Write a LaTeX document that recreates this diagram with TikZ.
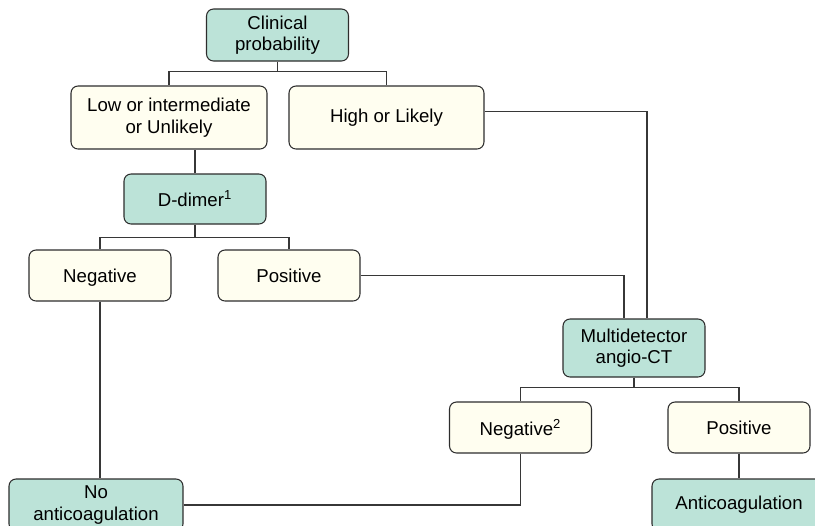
\documentclass[tikz,border=0pt]{standalone}
\usepackage{fontspec}
\setmainfont{Liberation Sans}
\usepackage{tikz}
\usetikzlibrary{positioning, calc}
\definecolor{testfill}{RGB}{188,227,216}
\definecolor{resfill}{RGB}{255,254,240}
\definecolor{boxline}{RGB}{45,45,45}
\definecolor{linkline}{RGB}{55,55,55}

\begin{document}
\begin{tikzpicture}[
  x=0.02cm, y=-0.02cm,
  testbox/.style={fill=testfill, draw=boxline, line width=0.6pt,
                  rounded corners=0.14cm, align=center, inner sep=0pt,
                  minimum width=2.84cm},
  resbox/.style={fill=resfill, draw=boxline, line width=0.6pt,
                 rounded corners=0.14cm, align=center, inner sep=0pt,
                 minimum width=2.84cm, minimum height=1.02cm},
  link/.style={draw=linkline, line width=0.6pt},
  font=\fontsize{10.6}{12.2}\selectfont,
]
\clip (0,0) rectangle (815,525);

% =================================================================
% TOP: clinical probability
% =================================================================
\node[testbox, minimum height=1.04cm] (clin) at (277.5,35) {Clinical\\probability};
\node[resbox, minimum width=3.92cm, minimum height=1.26cm] (low) at (169,117.5)
  {Low or intermediate\\or Unlikely};
\node[resbox, minimum width=3.9cm, minimum height=1.26cm] (high) at (386.5,117.5)
  {High or Likely};

\draw[link] (clin.south) -- ++(0,10) coordinate (clinfork);
\draw[link] (clinfork) -| (low.north);
\draw[link] (clinfork) -| (high.north);

% =================================================================
% LEFT: D-dimer branch
% =================================================================
\node[testbox, minimum height=1.0cm] (ddimer) at (195,199) {D-dimer\textsuperscript{1}};
\node[resbox, text depth=0pt] (neg) at (100,275.5) {Negative};
\node[resbox] (pos) at (289,275.5) {Positive};

\draw[link] (ddimer.north) -- (ddimer.north |- low.south);
\draw[link] (ddimer.south) -- ++(0,13) coordinate (ddfork);
\draw[link] (ddfork) -| (neg.north);
\draw[link] (ddfork) -| (pos.north);

% =================================================================
% RIGHT: angio-CT branch
% =================================================================
\node[testbox, minimum height=1.16cm] (mdct) at (634,348) {Multidetector\\angio-CT};
\node[resbox, text depth=0pt] (neg2) at (520.5,427.5) {Negative\textsuperscript{2}};
\node[resbox] (pos2) at (739,427.5) {Positive};

\draw[link] ([yshift=0.12cm]high.east) -| ([xshift=0.26cm]mdct.north);
\draw[link] (pos.east) -| ([xshift=-0.2cm]mdct.north);
\draw[link] (mdct.south) -- ++(0,10) coordinate (mdfork);
\draw[link] (mdfork) -| (neg2.north);
\draw[link] (mdfork) -| (pos2.north);

% =================================================================
% BOTTOM: outcomes
% =================================================================
\node[testbox, minimum width=3.48cm, minimum height=1.04cm] (noac) at (96,505)
  {No\\anticoagulation};
\node[testbox, minimum width=3.48cm, minimum height=1.04cm] (anticoag) at (739,505)
  {Anticoagulation};

\draw[link] (neg.south) -- (neg.south |- noac.north);
\draw[link] (noac.east) -| (neg2.south);
\draw[link] (pos2.south) -- (anticoag.north);

\end{tikzpicture}
\end{document}
